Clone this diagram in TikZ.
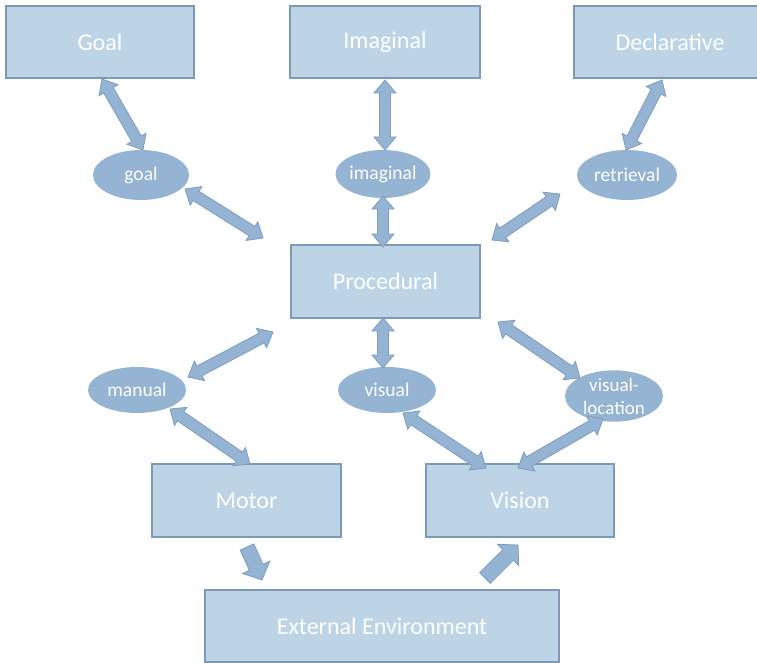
\documentclass[tikz,border=0pt]{standalone}
\usepackage{fontspec}
\setmainfont{Carlito}
\usetikzlibrary{calc,shapes.geometric}

\definecolor{boxfill}{RGB}{189,211,230}
\definecolor{boxline}{RGB}{125,153,181}
\definecolor{ovalfill}{RGB}{149,179,210}
\definecolor{arrowline}{RGB}{126,157,192}

\tikzset{
  module/.style={draw=boxline, line width=2.4pt, fill=boxfill, text=white,
    font=\fontsize{24}{28}\selectfont, inner sep=0pt},
  buffer/.style={ellipse, fill=ovalfill, text=white, inner sep=0pt,
    font=\fontsize{19.5}{22}\selectfont, align=center},
  blockarrow/.style={fill=ovalfill, draw=arrowline, line width=0.8pt, line join=miter},
}

% Double-headed block arrow between two named points
\newcommand\dblarrow[2]{%
  \path[blockarrow] let \p1=(#1), \p2=(#2), \n1={atan2(\y2-\y1,\x2-\x1)} in
    (\p1) -- ($(\p1)+(\n1:13pt)+({\n1+90}:11pt)$)
          -- ($(\p1)+(\n1:13pt)+({\n1+90}:5.5pt)$)
          -- ($(\p2)+(\n1:-13pt)+({\n1+90}:5.5pt)$)
          -- ($(\p2)+(\n1:-13pt)+({\n1+90}:11pt)$)
          -- (\p2)
          -- ($(\p2)+(\n1:-13pt)+({\n1-90}:11pt)$)
          -- ($(\p2)+(\n1:-13pt)+({\n1-90}:5.5pt)$)
          -- ($(\p1)+(\n1:13pt)+({\n1-90}:5.5pt)$)
          -- ($(\p1)+(\n1:13pt)+({\n1-90}:11pt)$)
          -- cycle;}

% Single-headed block arrow from a tail point to a tip point
\newcommand\sglarrow[2]{%
  \path[blockarrow] let \p1=(#1), \p2=(#2), \n1={atan2(\y2-\y1,\x2-\x1)} in
    ($(\p1)+({\n1+90}:7.5pt)$)
          -- ($(\p2)+(\n1:-14pt)+({\n1+90}:7.5pt)$)
          -- ($(\p2)+(\n1:-14pt)+({\n1+90}:15pt)$)
          -- (\p2)
          -- ($(\p2)+(\n1:-14pt)+({\n1-90}:15pt)$)
          -- ($(\p2)+(\n1:-14pt)+({\n1-90}:7.5pt)$)
          -- ($(\p1)+({\n1-90}:7.5pt)$)
          -- cycle;}

\begin{document}
\begin{tikzpicture}[x=1pt, y=-1pt]
\useasboundingbox (0,0) rectangle (757,663);
\clip (0,0) rectangle (757,663);

% modules
\node[module, minimum width=188pt, minimum height=72pt] (goalbox) at (100,42) {Goal};
\node[module, minimum width=190pt, minimum height=72pt] (imagbox) at (385,42) {Imaginal};
\node[module, minimum width=192pt, minimum height=72pt] (declbox) at (670,42) {Declarative};
\node[module, minimum width=189pt, minimum height=73pt] (procbox) at (385.5,281.5) {Procedural};
\node[module, minimum width=189pt, minimum height=73pt] (motorbox) at (246.5,500.5) {Motor};
\node[module, minimum width=188pt, minimum height=73pt] (visionbox) at (520,500.5) {Vision};
\node[module, minimum width=354pt, minimum height=72pt] (envbox) at (382,626) {External Environment};

% buffers
\node[buffer, minimum width=96pt, minimum height=50pt] (goalbuf) at (141,175) {goal};
\node[buffer, minimum width=94pt, minimum height=48pt] (imagbuf) at (383,174) {imaginal};
\node[buffer, minimum width=100pt, minimum height=50pt] (retrbuf) at (627,175) {retrieval};
\node[buffer, minimum width=98pt, minimum height=46pt] (manbuf) at (137,390) {manual};
\node[buffer, minimum width=98pt, minimum height=46pt] (visbuf) at (387,390) {visual};
\node[buffer, minimum width=98pt, minimum height=48pt, font=\fontsize{19}{23}\selectfont] (locbuf) at (614,396) {visual-\\location};

% arrow end points
\coordinate (a1s) at (102,79);  \coordinate (a1e) at (143,150);
\coordinate (a2s) at (185,189); \coordinate (a2e) at (263,238);
\coordinate (a3s) at (385,80);  \coordinate (a3e) at (385,150);
\coordinate (a4s) at (383,196); \coordinate (a4e) at (383,247);
\coordinate (a5s) at (662,80);  \coordinate (a5e) at (626,150);
\coordinate (a6s) at (560,194); \coordinate (a6e) at (492,240);
\coordinate (a7s) at (273,332); \coordinate (a7e) at (188,377);
\coordinate (a8s) at (383,318); \coordinate (a8e) at (383,368);
\coordinate (a9s) at (498,322); \coordinate (a9e) at (580,378);
\coordinate (a10s) at (170,409); \coordinate (a10e) at (250,464);
\coordinate (a11s) at (403,413); \coordinate (a11e) at (486,468);
\coordinate (a12s) at (603,419); \coordinate (a12e) at (518,468);
\coordinate (s1s) at (247,547); \coordinate (s1e) at (262,580);
\coordinate (s2s) at (485,578); \coordinate (s2e) at (518,545);

% connectors
\dblarrow{a1s}{a1e}
\dblarrow{a2s}{a2e}
\dblarrow{a3s}{a3e}
\dblarrow{a4s}{a4e}
\dblarrow{a5s}{a5e}
\dblarrow{a6s}{a6e}
\dblarrow{a7s}{a7e}
\dblarrow{a8s}{a8e}
\dblarrow{a9s}{a9e}
\dblarrow{a10s}{a10e}
\dblarrow{a11s}{a11e}
\dblarrow{a12s}{a12e}
\sglarrow{s1s}{s1e}
\sglarrow{s2s}{s2e}
\end{tikzpicture}
\end{document}
